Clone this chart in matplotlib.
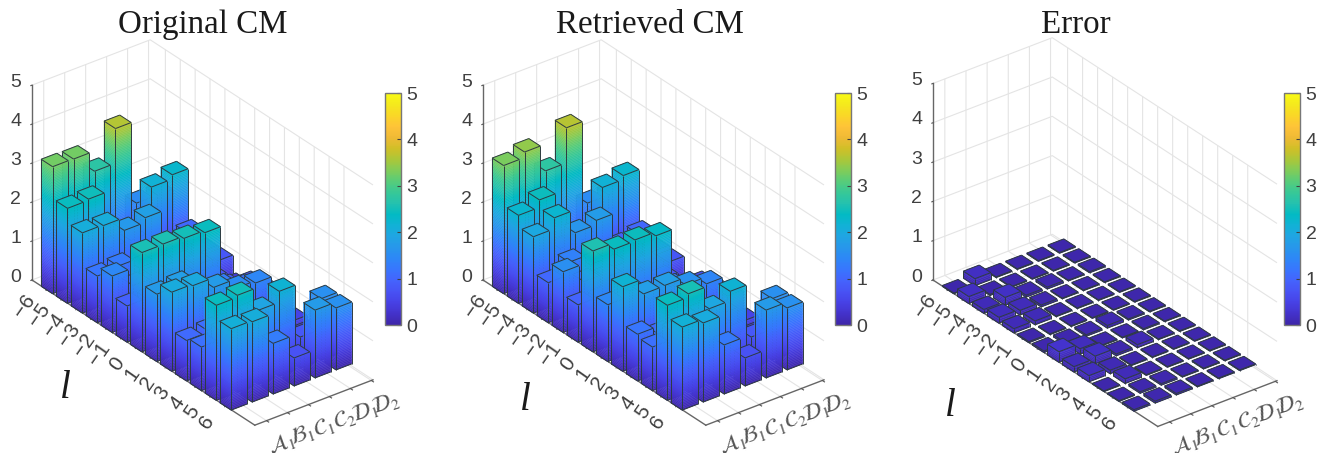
import numpy as np
import matplotlib
matplotlib.use('Agg')
from matplotlib import pyplot as plt
from matplotlib.colors import LinearSegmentedColormap, Normalize
from matplotlib.cm import ScalarMappable
from mpl_toolkits.mplot3d import proj3d
from mpl_toolkits.mplot3d.art3d import Poly3DCollection, Line3DCollection

plt.rcParams['font.family'] = ['Liberation Sans', 'DejaVu Sans']
plt.rcParams['mathtext.fontset'] = 'stix'
plt.rcParams['grid.color'] = '#e4e4e4'
plt.rcParams['grid.linewidth'] = 0.8

l_values = [-6, -5, -4, -3, -2, -1, 0, 1, 2, 3, 4, 5, 6]
l_labels = ['\u22126', '\u22125', '\u22124', '\u22123', '\u22122', '\u22121', '0', '1', '2', '3', '4', '5', '6']
mode_labels = [r'$\mathcal{A}_{\mathit{1}}$', r'$\mathcal{B}_{\mathit{1}}$', r'$\mathcal{C}_{\mathit{1}}$',
               r'$\mathcal{C}_{\mathit{2}}$', r'$\mathcal{D}_{\mathit{1}}$', r'$\mathcal{D}_{\mathit{2}}$']
titles = ['Original CM', 'Retrieved CM', 'Error']

# rows: l = -6..6, columns: A1 B1 C1 C2 D1 D2
original_cm = [
    [3.26, 3.25, 2.73, 3.62, 1.50, 1.50],
    [2.44, 2.47, 1.00, 1.00, 2.16, 2.27],
    [2.06, 2.04, 1.71, 1.83, 0.90, 1.03],
    [1.20, 1.25, 1.00, 0.80, 0.70, 0.80],
    [1.45, 1.00, 1.00, 0.90, 0.90, 0.80],
    [0.93, 0.90, 0.90, 0.90, 0.80, 0.40],
    [2.55, 2.56, 2.50, 2.44, 0.83, 0.70],
    [1.73, 1.78, 1.20, 1.30, 1.08, 0.80],
    [2.03, 1.99, 1.74, 1.50, 1.44, 0.90],
    [1.04, 1.09, 1.20, 1.10, 0.90, 0.50],
    [1.12, 1.30, 1.00, 1.00, 0.60, 0.45],
    [2.44, 2.49, 1.90, 2.18, 0.80, 1.58],
    [2.09, 2.06, 1.30, 0.72, 1.74, 1.59],
]
retrieved_cm = [
    [3.29, 3.43, 2.74, 3.64, 1.50, 1.50],
    [2.26, 2.45, 1.00, 1.00, 2.15, 2.25],
    [1.96, 2.24, 1.65, 1.76, 0.90, 1.00],
    [1.03, 1.35, 1.08, 0.80, 0.70, 0.80],
    [1.56, 1.10, 1.00, 0.90, 0.90, 0.77],
    [0.96, 0.90, 0.90, 0.90, 0.80, 0.40],
    [2.59, 2.43, 2.46, 2.36, 0.80, 0.70],
    [1.46, 1.60, 1.20, 1.30, 1.05, 0.80],
    [2.17, 1.78, 1.79, 1.60, 1.42, 0.90],
    [1.20, 1.00, 1.20, 1.10, 0.90, 0.50],
    [1.12, 1.30, 1.00, 1.00, 0.60, 0.45],
    [2.44, 2.53, 1.94, 2.18, 0.80, 1.58],
    [2.13, 2.03, 1.26, 0.72, 1.74, 1.59],
]
error_cm = [
    [0.02, 0.18, 0.02, 0.02, 0.02, 0.02],
    [0.18, 0.03, 0.02, 0.02, 0.02, 0.02],
    [0.10, 0.20, 0.05, 0.05, 0.02, 0.03],
    [0.15, 0.12, 0.05, 0.02, 0.02, 0.02],
    [0.11, 0.10, 0.02, 0.02, 0.02, 0.02],
    [0.03, 0.02, 0.02, 0.02, 0.02, 0.02],
    [0.04, 0.05, 0.04, 0.07, 0.03, 0.02],
    [0.27, 0.14, 0.02, 0.02, 0.03, 0.02],
    [0.14, 0.20, 0.05, 0.08, 0.02, 0.02],
    [0.16, 0.09, 0.02, 0.02, 0.02, 0.02],
    [0.02, 0.12, 0.02, 0.02, 0.02, 0.02],
    [0.02, 0.04, 0.04, 0.02, 0.02, 0.02],
    [0.04, 0.05, 0.04, 0.02, 0.02, 0.02],
]

# parula
parula_rgb = [
    (0.2422, 0.1504, 0.6603), (0.2647, 0.1978, 0.7952), (0.2783, 0.2559, 0.8991), (0.2810, 0.3228, 0.9579),
    (0.2699, 0.3892, 0.9906), (0.2206, 0.4603, 0.9973), (0.1786, 0.5289, 0.9682), (0.1540, 0.5902, 0.9218),
    (0.1248, 0.6459, 0.8883), (0.0689, 0.6948, 0.8394), (0.0067, 0.7312, 0.7660), (0.1408, 0.7584, 0.6842),
    (0.2161, 0.7843, 0.5923), (0.3406, 0.8008, 0.4789), (0.5044, 0.7993, 0.3480), (0.6720, 0.7793, 0.2227),
    (0.8203, 0.7498, 0.1535), (0.9393, 0.7288, 0.2100), (0.9970, 0.7659, 0.2199), (0.9786, 0.8422, 0.1526),
    (0.9597, 0.9135, 0.1136), (0.9769, 0.9839, 0.0805),
]
parula = LinearSegmentedColormap.from_list('parula', parula_rgb, N=256)
norm = Normalize(0, 5)

W, H = 1332, 453
fig = plt.figure(figsize=(W / 100, H / 100), dpi=100, facecolor='white')

XLIM = (-7.02, 7.95)
YLIM = (0.64, 6.28)
# the y ticks sit a little off the bar centres in the original
Y_TICK_SHIFT = 0.2
BAR_X = 0.385
BAR_Y = 0.375
EDGE = '#2e3a40'
GRAY = '#404040'


def to_px(ax, x, y, z):
    xs, ys, _ = proj3d.proj_transform(x, y, z, ax.get_proj())
    return ax.transData.transform((xs, ys))


def fit_axes(ax, left_px, right_px):
    # move the square axes so the floor corners land on these pixels
    s0 = 500
    ax.set_position([0.1, 0.1, s0 / W, s0 / H])
    ax.apply_aspect()
    span = to_px(ax, XLIM[1], YLIM[1], 0)[0] - to_px(ax, XLIM[0], YLIM[0], 0)[0]
    s = s0 * (right_px[0] - left_px[0]) / span
    ax.set_position([0.1, 0.1, s / W, s / H])
    ax.apply_aspect()
    p = to_px(ax, XLIM[0], YLIM[0], 0)
    ax.set_position([0.1 + (left_px[0] - p[0]) / W, 0.1 + (H - left_px[1] - p[1]) / H, s / W, s / H])
    ax.apply_aspect()


def draw_bar(ax, x, y, h, order):
    x0, x1, y0, y1 = x - BAR_X, x + BAR_X, y - BAR_Y, y + BAR_Y
    levels = np.linspace(0, h, max(2, int(h / 0.04) + 1))
    polys, cols = [], []
    for z0, z1 in zip(levels[:-1], levels[1:]):
        c = parula(norm((z0 + z1) / 2))
        polys.append([(x0, y0, z0), (x1, y0, z0), (x1, y0, z1), (x0, y0, z1)])
        cols.append(c)
        polys.append([(x1, y0, z0), (x1, y1, z0), (x1, y1, z1), (x1, y0, z1)])
        cols.append(c)
    polys.append([(x0, y0, h), (x1, y0, h), (x1, y1, h), (x0, y1, h)])
    cols.append(parula(norm(h)))
    pc = Poly3DCollection(polys, facecolors=cols, edgecolors=cols, linewidths=0.3, zorder=order)
    ax.add_collection3d(pc)
    segs = [
        [(x0, y0, 0), (x1, y0, 0)], [(x1, y0, 0), (x1, y1, 0)],
        [(x0, y0, 0), (x0, y0, h)], [(x1, y0, 0), (x1, y0, h)], [(x1, y1, 0), (x1, y1, h)],
        [(x0, y0, h), (x1, y0, h)], [(x1, y0, h), (x1, y1, h)], [(x1, y1, h), (x0, y1, h)], [(x0, y1, h), (x0, y0, h)],
    ]
    lc = Line3DCollection(segs, colors=EDGE, linewidths=0.7, zorder=order + 0.5)
    ax.add_collection3d(lc)


def panel(values, left, right, title, title_x, l_pos, cbar_x):
    ax = fig.add_subplot(projection='3d', computed_zorder=False, proj_type='ortho')
    ax.patch.set_visible(False)
    ax.view_init(elev=30, azim=-37.5)
    ax.set_box_aspect((366, 149, 225))
    ax.set_xlim(*XLIM, view_margin=0)
    ax.set_ylim(*YLIM, view_margin=0)
    ax.set_zlim(0, 5, view_margin=0)

    ax.set_xticks(l_values, l_labels, fontsize=15, color=GRAY, rotation=55, ha='right', va='center')
    ax.set_yticks([j + 1 + Y_TICK_SHIFT for j in range(6)], mode_labels, fontsize=16, color='#555555',
                  rotation=18, ha='center', va='center')
    ax.set_zticks(range(6), [str(i) for i in range(6)], fontsize=14, color=GRAY, va='center_baseline')
    ax.tick_params(axis='x', pad=3)
    ax.tick_params(axis='y', pad=3)
    ax.tick_params(axis='z', pad=0)
    ax.zaxis.set_ticks_position('lower')

    for axis in (ax.xaxis, ax.yaxis, ax.zaxis):
        axis.set_pane_color((1, 1, 1, 0))
        axis.pane.set_edgecolor('#e4e4e4')
        axis.line.set_color('#666666')
        axis.line.set_linewidth(1.0)
        axis._axinfo['tick']['inward_factor'] = 0.12
        axis._axinfo['tick']['outward_factor'] = 0.0
    ax.tick_params(color='#555555')

    order = 10
    for i, row in enumerate(values):
        for j in range(5, -1, -1):
            draw_bar(ax, l_values[i], j + 1, row[j], order)
            order += 1

    fit_axes(ax, left, right)

    fig.text(title_x / W, 1 - 24.5 / H, title, family='Liberation Serif', fontsize=23.8,
             ha='center', va='center', color='#1a1a1a')
    fig.text(l_pos[0] / W, 1 - l_pos[1] / H, 'l', family='Liberation Serif', style='italic',
             fontsize=28, ha='center', va='center', color='#1a1a1a')

    cax = fig.add_axes([cbar_x / W, 1 - 325 / H, 16 / W, 232 / H])
    cb = fig.colorbar(ScalarMappable(norm=norm, cmap=parula), cax=cax)
    cb.set_ticks(range(6))
    cb.ax.tick_params(direction='in', length=3, width=0.8, color=GRAY, labelcolor=GRAY,
                      labelsize=14, pad=4)
    cb.outline.set_edgecolor('#777777')
    cb.outline.set_linewidth(1.0)


panel(original_cm, (32, 280), (373, 382), titles[0], 203, (65, 388), 385)
panel(retrieved_cm, (483, 280), (824, 382), titles[1], 650, (525, 400), 835)
panel(error_cm, (933, 280), (1277, 382), titles[2], 1076, (950, 407), 1284)

fig.savefig('out.png', dpi=100, facecolor='white')
